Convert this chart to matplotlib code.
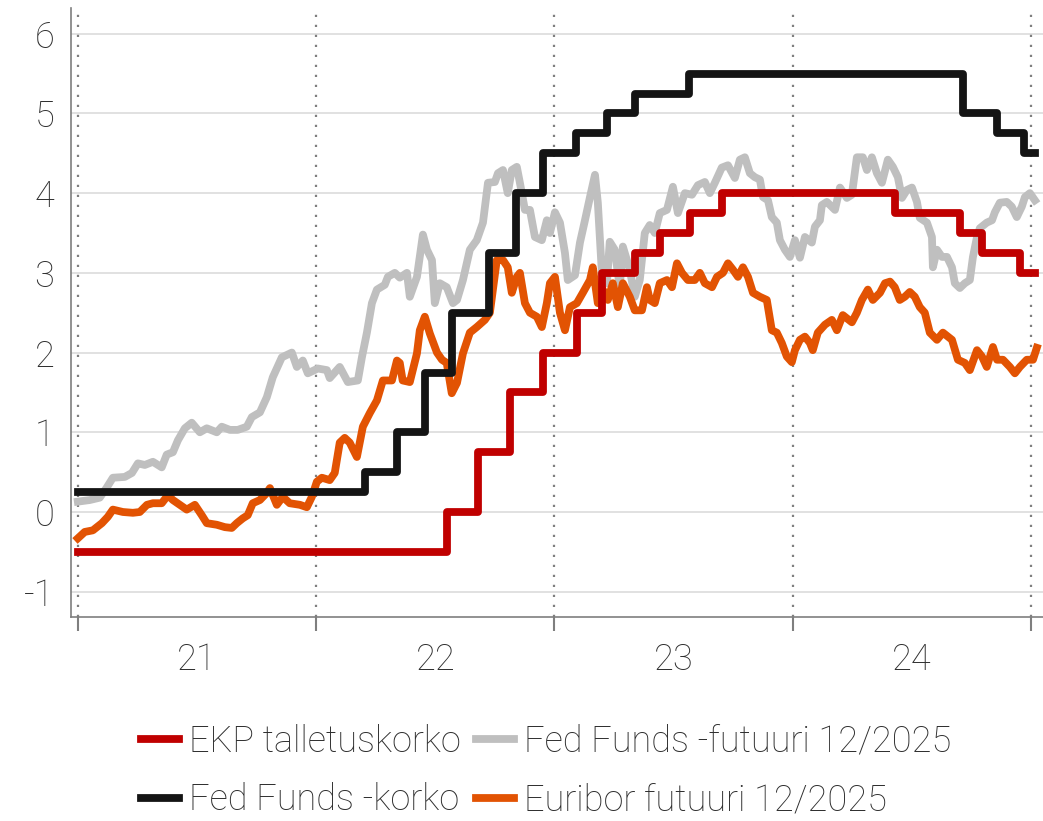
import numpy as np
import matplotlib
matplotlib.use("Agg")
import matplotlib.pyplot as plt

plt.rcParams['font.family'] = ['Roboto', 'DejaVu Sans']
plt.rcParams['font.weight'] = 'light'

# time in decimal years
ecb_t = [2021.0, 2022.548, 2022.679, 2022.813, 2022.951, 2023.094, 2023.199,
         2023.337, 2023.442, 2023.568, 2023.702, 2024.428, 2024.701, 2024.794,
         2024.953, 2025.016]
ecb_v = [-0.50, 0.00, 0.75, 1.50, 2.00, 2.50, 3.00, 3.25, 3.50, 3.75, 4.00,
         3.75, 3.50, 3.25, 3.00, 3.00]

fed_t = [2021.0, 2022.204, 2022.339, 2022.456, 2022.569, 2022.725, 2022.838,
         2022.951, 2023.090, 2023.220, 2023.337, 2023.564, 2024.714, 2024.857,
         2024.970, 2025.016]
fed_v = [0.25, 0.50, 1.00, 1.75, 2.50, 3.25, 4.00, 4.50, 4.75, 5.00, 5.25,
         5.50, 5.00, 4.75, 4.50, 4.50]

fedfut_t = [2021.000, 2021.050, 2021.092, 2021.122, 2021.147, 2021.197, 2021.227,
            2021.252, 2021.281, 2021.315, 2021.352, 2021.373, 2021.399, 2021.420,
            2021.449, 2021.478, 2021.512, 2021.541, 2021.583, 2021.604, 2021.638,
            2021.671, 2021.709, 2021.730, 2021.764, 2021.793, 2021.818, 2021.856,
            2021.898, 2021.919, 2021.944, 2021.965, 2022.007, 2022.045, 2022.057,
            2022.099, 2022.133, 2022.175, 2022.192, 2022.213, 2022.234, 2022.255,
            2022.288, 2022.301, 2022.330, 2022.351, 2022.381, 2022.393, 2022.423,
            2022.448, 2022.465, 2022.486, 2022.498, 2022.519, 2022.548, 2022.574,
            2022.591, 2022.616, 2022.645, 2022.674, 2022.700, 2022.721, 2022.750,
            2022.763, 2022.784, 2022.804, 2022.821, 2022.842, 2022.855, 2022.876,
            2022.897, 2022.918, 2022.947, 2022.968, 2022.981, 2023.002, 2023.023,
            2023.044, 2023.056, 2023.086, 2023.107, 2023.128, 2023.149, 2023.170,
            2023.182, 2023.199, 2023.220, 2023.232, 2023.253, 2023.274, 2023.287,
            2023.316, 2023.337, 2023.358, 2023.379, 2023.400, 2023.421, 2023.442,
            2023.472, 2023.497, 2023.518, 2023.547, 2023.577, 2023.602, 2023.631,
            2023.652, 2023.673, 2023.702, 2023.728, 2023.757, 2023.778, 2023.799,
            2023.820, 2023.841, 2023.862, 2023.875, 2023.896, 2023.912, 2023.933,
            2023.946, 2023.967, 2023.988, 2024.009, 2024.030, 2024.051, 2024.080,
            2024.093, 2024.114, 2024.122, 2024.143, 2024.177, 2024.198, 2024.227,
            2024.248, 2024.269, 2024.294, 2024.311, 2024.332, 2024.353, 2024.374,
            2024.399, 2024.420, 2024.441, 2024.458, 2024.479, 2024.500, 2024.521,
            2024.533, 2024.563, 2024.584, 2024.588, 2024.605, 2024.626, 2024.647,
            2024.668, 2024.680, 2024.701, 2024.722, 2024.743, 2024.756, 2024.773,
            2024.785, 2024.814, 2024.836, 2024.848, 2024.869, 2024.898, 2024.919,
            2024.940, 2024.961, 2024.974, 2024.995, 2025.016]
fedfut_v = [0.13, 0.15, 0.18, 0.31, 0.43, 0.44, 0.49, 0.61, 0.59, 0.63, 0.56, 0.72,
            0.75, 0.90, 1.05, 1.12, 1.00, 1.05, 1.00, 1.07, 1.03, 1.03, 1.07, 1.19,
            1.25, 1.44, 1.69, 1.94, 2.00, 1.82, 1.90, 1.74, 1.80, 1.78, 1.68, 1.82,
            1.63, 1.65, 1.94, 2.25, 2.62, 2.79, 2.85, 2.95, 3.00, 2.94, 3.00, 2.70,
            2.95, 3.48, 3.29, 3.16, 2.62, 2.87, 2.82, 2.62, 2.66, 2.91, 3.29, 3.41,
            3.63, 4.13, 4.14, 4.25, 4.29, 4.00, 4.29, 4.33, 4.13, 3.79, 3.79, 3.45,
            3.41, 3.66, 3.50, 3.76, 3.63, 3.25, 2.91, 2.97, 3.38, 3.66, 3.95, 4.23,
            3.88, 3.00, 2.87, 3.39, 3.29, 2.82, 3.33, 3.04, 2.70, 2.91, 3.50, 3.60,
            3.50, 3.75, 3.79, 4.08, 3.75, 4.00, 3.98, 4.10, 4.14, 4.00, 4.13, 4.32,
            4.35, 4.19, 4.42, 4.45, 4.25, 4.20, 4.17, 3.95, 3.91, 3.70, 3.63, 3.41,
            3.29, 3.20, 3.41, 3.19, 3.45, 3.38, 3.58, 3.66, 3.85, 3.89, 3.79, 4.07,
            3.94, 3.98, 4.45, 4.45, 4.29, 4.45, 4.25, 4.13, 4.42, 4.33, 4.20, 3.94,
            4.04, 4.07, 3.89, 3.69, 3.63, 3.45, 3.07, 3.29, 3.20, 3.20, 3.07, 2.87,
            2.81, 2.87, 2.91, 3.20, 3.45, 3.56, 3.63, 3.66, 3.76, 3.88, 3.89, 3.83,
            3.70, 3.83, 3.95, 4.00, 3.91]

eur_t = [2021.000, 2021.029, 2021.063, 2021.101, 2021.126, 2021.147, 2021.189,
         2021.231, 2021.260, 2021.290, 2021.315, 2021.352, 2021.378, 2021.399,
         2021.428, 2021.457, 2021.491, 2021.520, 2021.541, 2021.583, 2021.617,
         2021.646, 2021.667, 2021.692, 2021.713, 2021.734, 2021.764, 2021.793,
         2021.806, 2021.835, 2021.860, 2021.889, 2021.932, 2021.961, 2021.982,
         2022.003, 2022.024, 2022.057, 2022.078, 2022.099, 2022.120, 2022.141,
         2022.171, 2022.196, 2022.225, 2022.255, 2022.280, 2022.318, 2022.339,
         2022.351, 2022.363, 2022.393, 2022.423, 2022.435, 2022.456, 2022.477,
         2022.507, 2022.528, 2022.548, 2022.569, 2022.591, 2022.616, 2022.645,
         2022.674, 2022.708, 2022.729, 2022.758, 2022.784, 2022.804, 2022.821,
         2022.842, 2022.855, 2022.876, 2022.897, 2022.926, 2022.947, 2022.968,
         2022.981, 2023.002, 2023.023, 2023.044, 2023.065, 2023.094, 2023.119,
         2023.149, 2023.161, 2023.182, 2023.203, 2023.224, 2023.245, 2023.266,
         2023.287, 2023.316, 2023.337, 2023.367, 2023.388, 2023.400, 2023.421,
         2023.442, 2023.472, 2023.493, 2023.514, 2023.535, 2023.560, 2023.589,
         2023.610, 2023.631, 2023.661, 2023.682, 2023.707, 2023.728, 2023.749,
         2023.770, 2023.791, 2023.812, 2023.833, 2023.862, 2023.891, 2023.912,
         2023.933, 2023.954, 2023.975, 2023.996, 2024.009, 2024.030, 2024.051,
         2024.072, 2024.084, 2024.105, 2024.135, 2024.164, 2024.185, 2024.210,
         2024.248, 2024.269, 2024.290, 2024.315, 2024.336, 2024.366, 2024.387,
         2024.408, 2024.428, 2024.449, 2024.470, 2024.491, 2024.512, 2024.533,
         2024.554, 2024.575, 2024.605, 2024.630, 2024.668, 2024.693, 2024.722,
         2024.743, 2024.773, 2024.794, 2024.814, 2024.840, 2024.857, 2024.882,
         2024.911, 2024.932, 2024.953, 2024.982, 2025.008, 2025.024]
eur_v = [-0.33, -0.25, -0.23, -0.14, -0.06, 0.03, 0.00, -0.01, 0.00, 0.09, 0.11,
         0.11, 0.21, 0.15, 0.09, 0.03, 0.09, -0.04, -0.14, -0.16, -0.19, -0.20,
         -0.14, -0.08, -0.04, 0.11, 0.15, 0.24, 0.30, 0.09, 0.19, 0.11, 0.09, 0.06,
         0.19, 0.38, 0.43, 0.40, 0.49, 0.87, 0.93, 0.87, 0.69, 1.07, 1.24, 1.40,
         1.65, 1.65, 1.90, 1.87, 1.65, 1.63, 1.99, 2.28, 2.45, 2.24, 2.00, 1.91,
         1.87, 1.49, 1.62, 1.99, 2.25, 2.32, 2.41, 2.50, 3.16, 3.16, 3.07, 2.75,
         2.95, 3.00, 2.62, 2.50, 2.45, 2.32, 2.62, 2.87, 2.95, 2.50, 2.28, 2.57,
         2.62, 2.75, 2.91, 3.07, 2.62, 2.79, 2.66, 2.87, 2.57, 2.87, 2.70, 2.53,
         2.53, 2.82, 2.66, 2.62, 2.87, 2.91, 2.82, 3.12, 3.00, 2.91, 2.91, 3.00,
         2.87, 2.82, 2.95, 3.00, 3.12, 3.04, 2.95, 3.07, 2.95, 2.75, 2.70, 2.66,
         2.28, 2.25, 2.12, 1.95, 1.88, 2.03, 2.16, 2.20, 2.12, 2.03, 2.25, 2.35,
         2.41, 2.28, 2.47, 2.38, 2.50, 2.66, 2.79, 2.66, 2.75, 2.87, 2.89, 2.82,
         2.66, 2.70, 2.76, 2.70, 2.57, 2.50, 2.25, 2.16, 2.25, 2.16, 1.91, 1.87,
         1.78, 2.03, 1.95, 1.82, 2.07, 1.91, 1.91, 1.82, 1.74, 1.82, 1.91, 1.91,
         2.06]

years = [2021, 2022, 2023, 2024, 2025]
year_labels = ['21', '22', '23', '24']

RED = '#c00000'
BLACK = '#141414'
GRAY = '#bfbfbf'
ORANGE = '#e25303'
AXC = '#7f7f7f'
TXT = '#2e2e2e'

fig = plt.figure(figsize=(10.43, 8.21), dpi=100)
ax = fig.add_axes([0.068, 0.2485, 0.932, 0.7415])

lw = 5.6
ax.plot(fedfut_t, fedfut_v, color=GRAY, lw=lw, zorder=2, label='Fed Funds -futuuri 12/2025')
ax.plot(eur_t, eur_v, color=ORANGE, lw=lw, zorder=3, label='Euribor futuuri 12/2025')
ax.step(fed_t, fed_v, where='post', color=BLACK, lw=lw, zorder=4, label='Fed Funds -korko')
ax.step(ecb_t, ecb_v, where='post', color=RED, lw=lw, zorder=5, label='EKP talletuskorko')

for y in range(-1, 7):
    ax.axhline(y, color='#d9d9d9', lw=1.1, zorder=0)
for yr in years:
    ax.axvline(yr, color=AXC, lw=1.6, linestyle=(0, (1, 3.5)), zorder=1)

ax.set_xlim(2020.971, 2025.05)
ax.set_ylim(-1.317, 6.32)

ax.set_yticks(range(-1, 7))
ax.set_yticklabels([str(v) for v in range(-1, 7)])
ax.tick_params(axis='y', length=0, pad=12, labelsize=26, labelcolor=TXT)

ax.set_xticks(years)
ax.set_xticklabels([])
ax.set_xticks([y + 0.5 for y in years[:-1]], minor=True)
ax.set_xticklabels(year_labels, minor=True)
ax.tick_params(axis='x', which='major', length=10, width=1.5, color=AXC)
ax.tick_params(axis='x', which='minor', length=0, pad=18, labelsize=26, labelcolor=TXT)

for s in ['top', 'right']:
    ax.spines[s].set_visible(False)
for s in ['left', 'bottom']:
    ax.spines[s].set_color(AXC)
    ax.spines[s].set_linewidth(1.2)

h, l = ax.get_legend_handles_labels()
order = [3, 2, 0, 1]
fig.legend([h[i] for i in order], [l[i] for i in order], ncol=2,
           loc='upper left', bbox_to_anchor=(0.121, 0.136), frameon=False,
           fontsize=26, handlelength=1.05, handletextpad=0.3, columnspacing=0.4,
           labelspacing=0.62, borderaxespad=0, labelcolor=TXT)

fig.savefig('out.png', dpi=100)
